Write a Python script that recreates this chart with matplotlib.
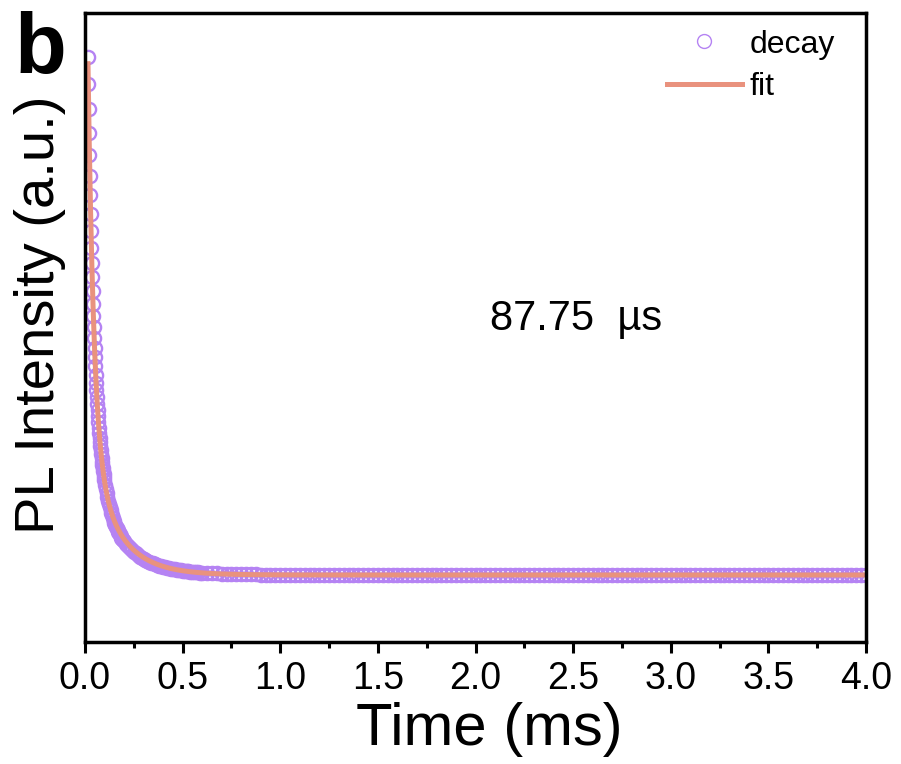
import numpy as np
import matplotlib
matplotlib.use('Agg')
import matplotlib.pyplot as plt
from matplotlib.lines import Line2D

plt.rcParams['font.family'] = ['Liberation Sans', 'DejaVu Sans']

# PL decay, normalised intensity vs time (ms), sampled on three channel grids
seg1_t = np.round(np.arange(0.015, 0.1, 0.002), 3)
seg1_I = [1.010, 0.958, 0.909, 0.862, 0.819, 0.778, 0.740, 0.704, 0.670, 0.638,
          0.608, 0.580, 0.554, 0.529, 0.505, 0.483, 0.462, 0.443, 0.424, 0.407,
          0.390, 0.375, 0.360, 0.346, 0.333, 0.321, 0.309, 0.298, 0.287, 0.277,
          0.268, 0.259, 0.251, 0.243, 0.235, 0.228, 0.221, 0.214, 0.208, 0.202,
          0.196, 0.191, 0.186]
seg2_t = np.round(np.arange(0.103, 0.2, 0.004), 3)
seg2_I = [0.176, 0.167, 0.159, 0.152, 0.145, 0.139, 0.133, 0.127, 0.121, 0.116,
          0.111, 0.106, 0.102, 0.098, 0.094, 0.091, 0.088, 0.084, 0.081, 0.079,
          0.076, 0.073, 0.071, 0.069, 0.067]
seg3_t = np.round(np.arange(0.21, 0.595, 0.01), 3)
seg3_I = [0.061, 0.057, 0.052, 0.048, 0.045, 0.042, 0.039, 0.036, 0.034, 0.032,
          0.030, 0.028, 0.026, 0.024, 0.023, 0.021, 0.020, 0.018, 0.017, 0.016,
          0.015, 0.014, 0.013, 0.012, 0.011, 0.011, 0.010, 0.009, 0.009, 0.008,
          0.008, 0.007, 0.007, 0.006, 0.006, 0.005, 0.005, 0.005, 0.004]

# flat tail, one channel every 0.025 ms from 0.6 to 4.0 ms
tail_t = np.round(np.arange(0.600, 4.0001, 0.025), 3)
tail_I = [0.004, 0.004, 0.003, 0.003, 0.002, 0.002, 0.002, 0.001, 0.001, 0.001,
          0.001, 0.001, 0.0, 0.0, 0.0, 0.0, 0.0, 0.0, 0.0, 0.0,
          0.0, 0.0, 0.0, 0.0, 0.0, 0.0, 0.0, 0.0, 0.0, 0.0,
          0.0, 0.0, 0.0, 0.0, 0.0, 0.0, 0.0, 0.0, 0.0, 0.0,
          0.0, 0.0, 0.0, 0.0, 0.0, 0.0, 0.0, 0.0, 0.0, 0.0,
          0.0, 0.0, 0.0, 0.0, 0.0, 0.0, 0.0, 0.0, 0.0, 0.0,
          0.0, 0.0, 0.0, 0.0, 0.0, 0.0, 0.0, 0.0, 0.0, 0.0,
          0.0, 0.0, 0.0, 0.0, 0.0, 0.0, 0.0, 0.0, 0.0, 0.0,
          0.0, 0.0, 0.0, 0.0, 0.0, 0.0, 0.0, 0.0, 0.0, 0.0,
          0.0, 0.0, 0.0, 0.0, 0.0, 0.0, 0.0, 0.0, 0.0, 0.0,
          0.0, 0.0, 0.0, 0.0, 0.0, 0.0, 0.0, 0.0, 0.0, 0.0,
          0.0, 0.0, 0.0, 0.0, 0.0, 0.0, 0.0, 0.0, 0.0, 0.0,
          0.0, 0.0, 0.0, 0.0, 0.0, 0.0, 0.0, 0.0, 0.0, 0.0,
          0.0, 0.0, 0.0, 0.0, 0.0, 0.0, 0.0]

t_data = np.concatenate([seg1_t, seg2_t, seg3_t, tail_t])
I_data = np.concatenate([seg1_I, seg2_I, seg3_I, tail_I])

# biexponential fit, slow lifetime chosen so the average lifetime is TAU_AVG_US
TAU_AVG_US = 87.75
A1, tau1 = 1.25, 0.030
A2 = 0.28
tau_avg = TAU_AVG_US / 1000.0
c = A1 * tau1**2 - tau_avg * A1 * tau1
tau2 = (tau_avg * A2 + np.sqrt((tau_avg * A2)**2 - 4 * A2 * c)) / (2 * A2)
t_fit = np.linspace(0.0155, 4.0, 3000)
I_fit = A1 * np.exp(-t_fit / tau1) + A2 * np.exp(-t_fit / tau2)
tau_avg_fit = (A1 * tau1**2 + A2 * tau2**2) / (A1 * tau1 + A2 * tau2)

purple = '#B583F3'
salmon = '#E9927E'

fig = plt.figure(figsize=(9.01, 7.64), dpi=100)
ax = fig.add_axes([0.0943, 0.1597, 0.8669, 0.8233])

ax.plot(t_data, I_data, 'o', ms=9.5, mfc='none', mec=purple, mew=1.7)
ax.plot(t_fit, I_fit, color=salmon, lw=3.6)

ax.set_xlim(0, 4)
ax.set_ylim(-0.1306, 1.0955)
ax.set_xticks(np.arange(0, 4.01, 0.5))
ax.set_xticks(np.arange(0.25, 4.0, 0.5), minor=True)
ax.set_yticks([])
ax.tick_params(axis='x', which='major', direction='out', length=8, width=2.2,
               labelsize=27, pad=6)
ax.tick_params(axis='x', which='minor', direction='out', length=4.5, width=2.2)
for s in ax.spines.values():
    s.set_linewidth(2.5)

ax.set_xlabel('Time (ms)', fontsize=43)
ax.xaxis.set_label_coords(0.518, -0.095)
ax.set_ylabel('PL Intensity (a.u.)', fontsize=40.5)
ax.yaxis.set_label_coords(-0.024, 0.52)

ax.text(2.074, 0.478, f'{tau_avg_fit * 1000:.2f}  µs', fontsize=30)
fig.text(0.016, 0.905, 'b', fontsize=61, fontweight='bold')

handles = [Line2D([], [], ls='none', marker='o', ms=10, mfc='none', mec=purple, mew=1.0),
           Line2D([], [], color=salmon, lw=3.6)]
ax.legend(handles, ['decay', 'fit'], loc='upper right', frameon=False, fontsize=23,
          handlelength=2.35, handletextpad=0.25, labelspacing=0.4,
          borderaxespad=0.2, bbox_to_anchor=(0.985, 1.004))

fig.savefig('out.png', dpi=100)
